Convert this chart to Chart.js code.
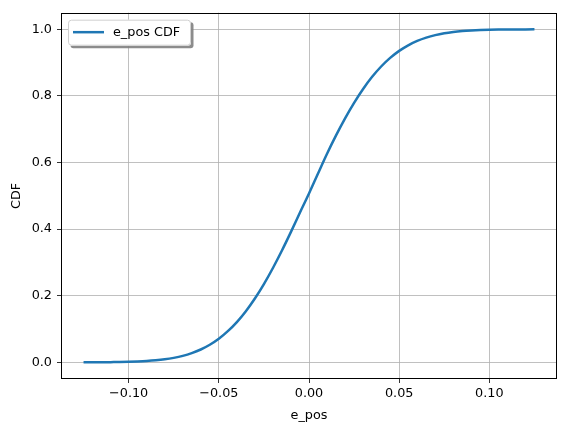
<!DOCTYPE html>
<html>
<head>
<meta charset="utf-8">
<script src="https://cdn.jsdelivr.net/npm/chart.js@4.4.0/dist/chart.umd.min.js"></script>
<style>
html,body{margin:0;padding:0;background:#fff;}
#wrap{width:567px;height:432px;}
</style>
</head>
<body>
<div id="wrap"><canvas id="c" width="567" height="432"></canvas></div>
<script>
const xValues = [-0.125,-0.120,-0.115,-0.110,-0.105,-0.100,-0.095,-0.090,-0.085,-0.080,-0.075,-0.070,-0.065,-0.060,-0.055,-0.050,-0.045,-0.040,-0.035,-0.030,-0.025,-0.020,-0.015,-0.010,-0.005,0.000,0.005,0.010,0.015,0.020,0.025,0.030,0.035,0.040,0.045,0.050,0.055,0.060,0.065,0.070,0.075,0.080,0.085,0.090,0.095,0.100,0.105,0.110,0.115,0.120,0.125];
const cdfValues = [0.0001,0.0002,0.0003,0.0006,0.0009,0.0015,0.0025,0.0039,0.0060,0.0090,0.0134,0.0194,0.0277,0.0386,0.0528,0.0709,0.0936,0.121,0.1537,0.1917,0.235,0.2833,0.3358,0.3917,0.450,0.507,0.567,0.6264,0.6815,0.7327,0.7794,0.821,0.8574,0.8884,0.9142,0.9353,0.9521,0.9652,0.9752,0.9827,0.9882,0.9921,0.9948,0.9966,0.9979,0.9987,0.9992,0.9995,0.9997,0.9998,0.9999];
const xTicks = [-0.10,-0.05,0.00,0.05,0.10];
const yTicks = [0.0,0.2,0.4,0.6,0.8,1.0];
const seriesLabel = 'e_pos CDF';
const xTitle = 'e_pos';
const yTitle = 'CDF';

const FONT = 'DejaVu Sans';
const FS = 12.8;
const points = xValues.map((x,i)=>({x:x,y:cdfValues[i]}));

function fmtX(v){
  const s = Math.abs(v).toFixed(2);
  return (v < -1e-9 ? '\u2212' : '') + s;
}

const framePlugin = {
  id:'frame',
  afterDatasetsDraw(chart){
    const {ctx, chartArea:a} = chart;
    ctx.save();
    ctx.strokeStyle = '#000';
    ctx.lineWidth = 1;
    ctx.strokeRect(Math.round(a.left)+0.5, Math.round(a.top)+0.5, Math.round(a.right-a.left)-1, Math.round(a.bottom-a.top)-1);
    ctx.restore();
  }
};

const legendPlugin = {
  id:'boxLegend',
  afterDraw(chart){
    const {ctx, chartArea:a} = chart;
    const ds = chart.data.datasets[0];
    const x0 = a.left + 7, y0 = a.top + 7, w = 123, h = 26;
    ctx.save();
    function rr(x,y,w,h,r){
      ctx.beginPath();
      ctx.moveTo(x+r,y);
      ctx.lineTo(x+w-r,y); ctx.quadraticCurveTo(x+w,y,x+w,y+r);
      ctx.lineTo(x+w,y+h-r); ctx.quadraticCurveTo(x+w,y+h,x+w-r,y+h);
      ctx.lineTo(x+r,y+h); ctx.quadraticCurveTo(x,y+h,x,y+h-r);
      ctx.lineTo(x,y+r); ctx.quadraticCurveTo(x,y,x+r,y);
      ctx.closePath();
    }
    ctx.fillStyle = 'rgba(128,128,128,0.9)';
    rr(x0+2.5,y0+2.5,w,h,3); ctx.fill();
    ctx.fillStyle = '#fff';
    rr(x0,y0,w,h,3); ctx.fill();
    ctx.strokeStyle = '#d0d0d0'; ctx.lineWidth = 1;
    rr(x0+0.5,y0+0.5,w-1,h-1,3); ctx.stroke();
    ctx.strokeStyle = ds.borderColor; ctx.lineWidth = ds.borderWidth;
    ctx.beginPath(); ctx.moveTo(x0+5, y0+12.5); ctx.lineTo(x0+36, y0+12.5); ctx.stroke();
    ctx.fillStyle = '#000';
    ctx.font = FS + 'px "' + FONT + '"';
    ctx.textBaseline = 'middle';
    ctx.fillText(ds.label, x0+45, y0+13);
    ctx.restore();
  }
};

new Chart(document.getElementById('c'), {
  type:'line',
  data:{datasets:[{label:seriesLabel,data:points,borderColor:'#1f77b4',borderWidth:2.5,pointRadius:0,fill:false,tension:0.3,cubicInterpolationMode:'monotone'}]},
  options:{
    responsive:false,
    animation:false,
    devicePixelRatio:1,
    layout:{padding:{top:9,right:10,left:0,bottom:0}},
    plugins:{legend:{display:false},tooltip:{enabled:false}},
    scales:{
      x:{
        type:'linear',
        min:-0.1375,max:0.1375,
        afterBuildTicks(s){ s.ticks = xTicks.map(v=>({value:v})); },
        afterFit(s){ s.height = 53; },
        grid:{color:'#b0b0b0',lineWidth:0.8,tickLength:4,tickColor:'#000',drawTicks:true},
        border:{display:false},
        ticks:{color:'#000',font:{family:FONT,size:FS},padding:3,maxRotation:0,callback:v=>fmtX(v)},
        title:{display:true,text:xTitle,color:'#000',font:{family:FONT,size:FS},padding:{top:2,bottom:9}}
      },
      y:{
        type:'linear',
        min:-0.05,max:1.05,
        afterBuildTicks(s){ s.ticks = yTicks.map(v=>({value:v})); },
        afterFit(s){ s.width = 61; },
        grid:{color:'#b0b0b0',lineWidth:0.8,tickLength:4,tickColor:'#000',drawTicks:true},
        border:{display:false},
        ticks:{color:'#000',font:{family:FONT,size:FS},padding:5,callback:v=>v.toFixed(1)},
        title:{display:true,text:yTitle,color:'#000',font:{family:FONT,size:FS},padding:{top:9,bottom:0}}
      }
    }
  },
  plugins:[framePlugin,legendPlugin]
});
</script>
</body>
</html>
